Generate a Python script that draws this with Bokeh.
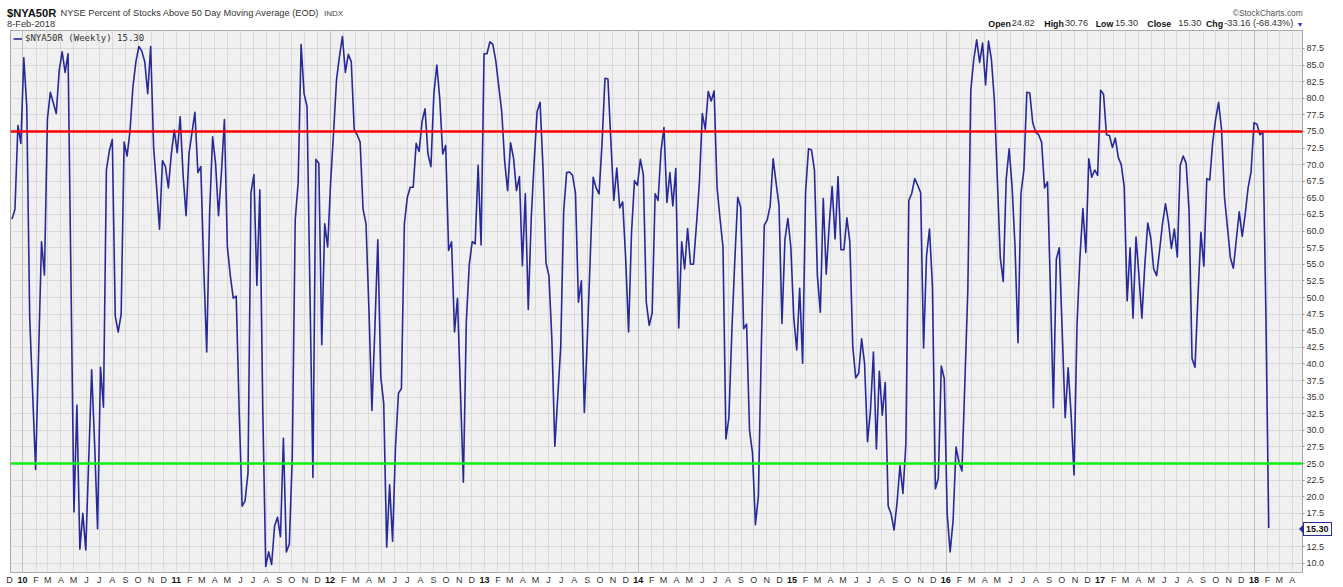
import datetime as dt
from bokeh.plotting import figure
from bokeh.layouts import column
from bokeh.models import (Range1d, MonthsTicker, YearsTicker, FixedTicker, CustomJSTickFormatter,
                          PrintfTickFormatter, Span, ColumnDataSource, Grid, Div)
from bokeh.embed import file_html
from bokeh.resources import INLINE

# ---------------- data ----------------
start_date = dt.datetime(2009, 12, 6)          # date of week 0
week_index = ([0, 1, 2, 3, 4, 5, 6, 8, 10, 11, 12, 13, 15, 16, 17, 18, 19, 21, 22, 23, 24, 25,
               27, 28, 29, 30, 31, 32, 33, 34, 35, 36, 37, 38, 39, 40, 41, 42, 43, 44, 45, 46,
               47, 48, 49, 50]
              + list(range(51, 101)) + list(range(102, 152)) + list(range(153, 427)))

pct_above_50dma = [
    61.8, 63.3, 75.9, 73.2, 86.1, 78.8, 46.9, 24.1, 58.4, 53.4, 76.9, 80.9, 77.7, 84.2, 87.0, 83.9,
    86.7, 17.7, 33.8, 12.1, 17.5, 12.0, 39.1, 28.0, 15.2, 39.5, 33.5, 69.2, 72.1, 73.8, 47.2, 44.8,
    47.5, 73.4, 71.3, 75.1, 81.8, 85.5, 87.8, 87.1, 85.5, 80.7, 87.8, 72.6, 66.7, 60.3,
    # 51-100
    70.6, 69.7, 66.5, 71.6, 75.2, 71.8, 77.2, 68.4, 62.3, 71.7,
    74.8, 77.9, 68.8, 69.7, 54.4, 41.8, 63.0, 74.2, 70.2, 62.3,
    68.9, 76.8, 57.6, 53.3, 49.9, 50.2, 33.0, 18.6, 19.4, 23.6,
    65.8, 68.5, 51.8, 66.2, 33.3, 9.5, 11.7, 9.8, 15.6, 16.9,
    14.0, 28.8, 11.7, 12.9, 26.0, 61.7, 67.3, 88.1, 80.7, 78.8,
    # 102-151
    22.9, 70.8, 70.2, 42.9, 61.1, 57.6, 67.3, 74.8, 82.8, 86.3,
    89.3, 83.9, 86.6, 85.5, 75.3, 74.5, 73.4, 63.3, 61.1, 48.0,
    33.0, 45.3, 58.7, 38.1, 34.1, 12.4, 21.8, 13.3, 27.6, 35.6,
    36.3, 61.1, 65.1, 66.6, 66.6, 73.2, 72.0, 76.5, 78.4, 71.6,
    69.7, 80.7, 85.0, 79.9, 71.6, 72.9, 57.1, 58.4, 44.8, 49.9,
    # 153-426
    22.2, 46.4, 55.0, 58.4, 58.1, 69.9, 57.9, 86.7, 86.7, 88.5,
    88.1, 85.6, 81.8, 78.0, 70.5, 66.1, 73.3, 71.0, 66.1, 68.2,
    54.8, 65.6, 48.2, 61.9, 70.5, 78.0, 79.4, 69.4, 55.2, 53.3,
    43.7, 27.6, 35.1, 42.6, 63.0, 68.8, 68.9, 68.4, 65.7, 49.3,
    52.5, 32.7, 43.7, 56.0, 68.1, 66.5, 65.6, 73.2, 83.0, 82.9,
    73.5, 64.6, 69.5, 63.5, 64.4, 56.0, 44.8, 59.8, 67.6, 66.9,
    70.8, 68.5, 49.3, 45.8, 47.7, 65.6, 64.6, 72.1, 75.6, 64.3,
    68.8, 63.8, 69.4, 45.4, 58.4, 54.3, 60.4, 55.0, 55.0, 60.9,
    67.3, 77.7, 75.3, 81.0, 79.6, 81.1, 66.5, 61.9, 57.6, 28.7,
    31.9, 44.8, 55.5, 65.1, 63.6, 45.3, 46.0, 30.0, 26.6, 15.8,
    20.1, 42.6, 60.9, 61.7, 63.8, 70.9, 67.3, 63.8, 46.1, 58.7,
    61.9, 57.6, 46.9, 42.1, 51.4, 40.1, 65.9, 72.4, 72.2, 69.2,
    53.3, 47.8, 64.9, 53.5, 60.9, 66.7, 58.8, 68.2, 57.2, 57.2,
    62.0, 58.4, 42.6, 37.9, 38.6, 43.8, 40.0, 28.3, 33.0, 41.8,
    27.2, 38.9, 32.3, 37.2, 18.6, 17.4, 15.0, 19.1, 24.7, 20.5,
    28.0, 64.6, 65.7, 67.9, 66.9, 65.8, 42.4, 56.3, 60.3, 51.7,
    21.2, 22.8, 39.7, 37.8, 17.4, 11.7, 16.4, 27.5, 25.2, 23.9,
    37.3, 51.2, 81.2, 85.8, 88.8, 85.4, 88.3, 82.0, 88.6, 85.8,
    79.6, 67.8, 56.0, 52.4, 67.8, 72.4, 66.7, 57.6, 43.2, 65.7,
    69.2, 80.9, 80.8, 76.3, 74.9, 74.5, 73.4, 66.5, 67.4, 51.2,
    33.4, 55.8, 57.5, 44.8, 31.9, 39.4, 32.4, 23.3, 45.8, 56.0,
    63.4, 56.8, 70.9, 68.1, 69.2, 68.4, 81.2, 80.6, 74.5, 74.4,
    72.6, 74.0, 71.1, 70.0, 66.7, 49.5, 57.5, 46.9, 59.1, 53.3,
    46.9, 55.0, 61.2, 59.0, 54.3, 53.3, 57.1, 61.2, 64.1, 61.4,
    57.4, 60.3, 56.1, 69.9, 71.3, 70.2, 63.0, 40.8, 39.5, 50.1,
    59.8, 54.7, 67.9, 67.7, 73.4, 76.9, 79.4, 75.3, 65.1, 60.6,
    56.0, 54.4, 58.7, 62.9, 59.2, 62.5, 66.5, 68.9, 76.3, 76.1,
    74.5, 74.9, 48.46, 15.30,
]
assert len(week_index) == len(pct_above_50dma)

upper_level = 75.0
lower_level = 25.0
last_value = 15.30

y_ticks = [10.0, 12.5, 15.0, 17.5, 20.0, 22.5, 25.0, 27.5, 30.0, 32.5, 35.0, 37.5, 40.0, 42.5,
           45.0, 47.5, 50.0, 52.5, 55.0, 57.5, 60.0, 62.5, 65.0, 67.5, 70.0, 72.5, 75.0, 77.5,
           80.0, 82.5, 85.0, 87.5]
month_letters = "JFMAMJJASOND"
year_label_dates = [dt.datetime(2010, 1, 1), dt.datetime(2011, 1, 1), dt.datetime(2012, 1, 1),
                    dt.datetime(2013, 1, 1), dt.datetime(2014, 1, 1), dt.datetime(2015, 1, 1),
                    dt.datetime(2016, 1, 1), dt.datetime(2017, 1, 1), dt.datetime(2018, 1, 1)]
year_labels = ["10", "11", "12", "13", "14", "15", "16", "17", "18"]
first_month_date = dt.datetime(2009, 12, 1)     # partly visible "D" at the left edge
first_month_label = "D"

symbol = "$NYA50R"
description = "NYSE Percent of Stocks Above 50 Day Moving Average (EOD)"
exchange = "INDX"
as_of = "8-Feb-2018"
legend_text = "$NYA50R (Weekly) 15.30"
quote_labels = ["Open", "High", "Low", "Close", "Chg"]
quote_values = ["24.82", "30.76", "15.30", "15.30", "-33.16 (-68.43%)"]

# ---------------- layout constants ----------------
FONT = "Liberation Sans"
W, H = 1343, 587
HEADER_H = 29
FRAME_L, FRAME_R = 10, 1302            # plot frame, page pixels
FRAME_T, FRAME_B = 30, 574
X0, X1 = dt.datetime(2009, 12, 2, 10), dt.datetime(2018, 4, 25, 2)
Y0, Y1 = 8.6, 90.2

def page_x(d):   # page position of a date, for HTML overlay text
    return FRAME_L + (d - X0).total_seconds() / (X1 - X0).total_seconds() * (FRAME_R - FRAME_L)

def page_y(v):
    return FRAME_B - (v - Y0) / (Y1 - Y0) * (FRAME_B - FRAME_T)

# ---------------- header + overlay text (HTML) ----------------
def span(left, top, size, text, weight="normal", color="#333333", right=None, extra=""):
    pos = ("right:%.1fpx;" % right) if right is not None else ("left:%.1fpx;" % left)
    return ('<span style="position:absolute;%stop:%.1fpx;font-size:%.2fpx;line-height:1;'
            'font-weight:%s;color:%s;white-space:nowrap;z-index:20;%s">%s</span>'
            % (pos, top, size, weight, color, extra, text))

parts = [
    span(7, 8.0, 11.2, symbol, "bold", "#111111"),
    span(60.5, 9.0, 9.25, description, "normal", "#333333"),
    span(324, 10.0, 8.0, exchange, "normal", "#444444"),
    span(7, 20.0, 9.3, as_of, "normal", "#333333"),
    span(None, 8.8, 8.4, "\u00a9StockCharts.com", "normal", "#555555", right=W - 1302.7),
]
label_x = [988.3, 1044.3, 1095.7, 1147.3, 1206.0]
value_x = [1011.7, 1065.0, 1115.0, 1178.3, 1224.3]
for lx, vx, lab, val in zip(label_x, value_x, quote_labels, quote_values):
    parts.append(span(lx, 19.5, 8.8, lab, "bold", "#111111"))
    parts.append(span(vx, 19.4, 9.2, val, "normal", "#333333"))
parts.append(span(1296.5, 20.5, 7.0, "\u25bc", "normal", "#2b2bd6"))

# bold two-digit years under the January ticks
for d, t in zip(year_label_dates, year_labels):
    parts.append(span(page_x(d), FRAME_B + 1.5, 9.0, t, "bold", "#111111",
                      extra="transform:translateX(-50%);background:#ffffff;padding:0 1px 1px 1px;"))
parts.append(span(max(page_x(first_month_date), 8.5), FRAME_B + 2.0, 9.0, first_month_label,
                  "normal", "#333333", extra="transform:translateX(-50%);"))

# boxed last-value tag with a left-pointing arrow
ty = page_y(last_value)
parts.append('<span style="position:absolute;left:1299px;top:%.1fpx;width:0;height:0;'
             'border-top:4px solid transparent;border-bottom:4px solid transparent;'
             'border-right:4px solid #2a2a9a;z-index:20;"></span>' % (ty - 4))
parts.append(span(1303, ty - 7, 9.0, "%.2f" % last_value, "bold", "#111111",
                  extra="border:1px solid #2a2a9a;background:#ffffff;padding:1.5px 2px 1.5px 2px;"))

header = Div(text='<div style="position:relative;width:%dpx;height:%dpx;overflow:visible;'
                  'font-family:\'Liberation Sans\',Arial,sans-serif;">%s</div>'
                  % (W, HEADER_H, "".join(parts)),
             width=W, height=HEADER_H, margin=0, disable_math=True,
             styles={"overflow": "visible", "z-index": "10"})

# ---------------- figure ----------------
dates = [start_date + dt.timedelta(weeks=w) for w in week_index]
src = ColumnDataSource(dict(date=dates, value=pct_above_50dma))

p = figure(width=W, height=H - HEADER_H, x_axis_type="datetime", y_axis_location="right",
           x_range=Range1d(X0, X1), y_range=Range1d(Y0, Y1),
           output_backend="svg", toolbar_location=None, title=None,
           min_border_left=FRAME_L, min_border_right=W - FRAME_R,
           min_border_top=FRAME_T - HEADER_H, min_border_bottom=H - FRAME_B,
           background_fill_color="#f0f0f0", border_fill_color="white", border_fill_alpha=0,
           outline_line_color="#a8a8a8", outline_line_width=1, margin=0)

# grids
months_ticker = MonthsTicker(months=list(range(12)))
p.xgrid.ticker = months_ticker
p.xgrid.grid_line_color = "#dadada"
p.ygrid.ticker = FixedTicker(ticks=y_ticks)
p.ygrid.grid_line_color = "#dadada"
p.add_layout(Grid(dimension=0, ticker=YearsTicker(), grid_line_color="#c2c2c2", grid_line_width=1))

# x axis: month initials, two-digit year in January
p.xaxis.ticker = months_ticker
p.xaxis.formatter = CustomJSTickFormatter(code="""
    const d = new Date(tick);
    const m = d.getUTCMonth();
    if (m == 0) { return String(d.getUTCFullYear() %% 100).padStart(2, "0"); }
    return "%s"[m];
""" % month_letters)
p.xaxis.major_label_text_font = FONT
p.xaxis.major_label_text_font_size = "9px"
p.xaxis.major_label_text_color = "#333333"
p.xaxis.major_tick_out = 0
p.xaxis.major_tick_in = 0
p.xaxis.minor_tick_out = 0
p.xaxis.minor_tick_in = 0
p.xaxis.axis_line_color = None
p.xaxis.major_label_standoff = 2

# right y axis (the last value replaces the 15.0 label, as in the reference tag)
p.yaxis.ticker = FixedTicker(ticks=[last_value if t == 15.0 else t for t in y_ticks])
p.yaxis.formatter = PrintfTickFormatter(format="%.1f")
p.yaxis.major_label_overrides = {last_value: "%.2f" % last_value}
p.yaxis.major_label_text_font = FONT
p.yaxis.major_label_text_font_size = "9px"
p.yaxis.major_label_text_color = "#333333"
p.yaxis.major_tick_out = 2
p.yaxis.major_tick_in = 0
p.yaxis.minor_tick_out = 0
p.yaxis.minor_tick_in = 0
p.yaxis.major_tick_line_color = "#999999"
p.yaxis.axis_line_color = "#999999"
p.yaxis.axis_line_dash = "1 2"
p.yaxis.major_label_standoff = 2

# series
r = p.line("date", "value", source=src, line_color="#28289a", line_width=1.6,
           line_join="round", legend_label=legend_text)

p.add_layout(Span(location=upper_level, dimension="width", line_color="#ff0000", line_width=2.6))
p.add_layout(Span(location=lower_level, dimension="width", line_color="#11ee11", line_width=2.6))

# legend
lg = p.legend[0]
lg.location = "top_left"
lg.margin = 2
lg.padding = 1
lg.spacing = 0
lg.glyph_width = 9
lg.glyph_height = 9
lg.label_standoff = 3
lg.label_height = 9
lg.label_text_font = "DejaVu Sans Mono"
lg.label_text_font_size = "9px"
lg.label_text_color = "#333333"
lg.background_fill_alpha = 0
lg.border_line_alpha = 0

layout = column(header, p, spacing=0)
open("out.html", "w").write(file_html(layout, INLINE))
